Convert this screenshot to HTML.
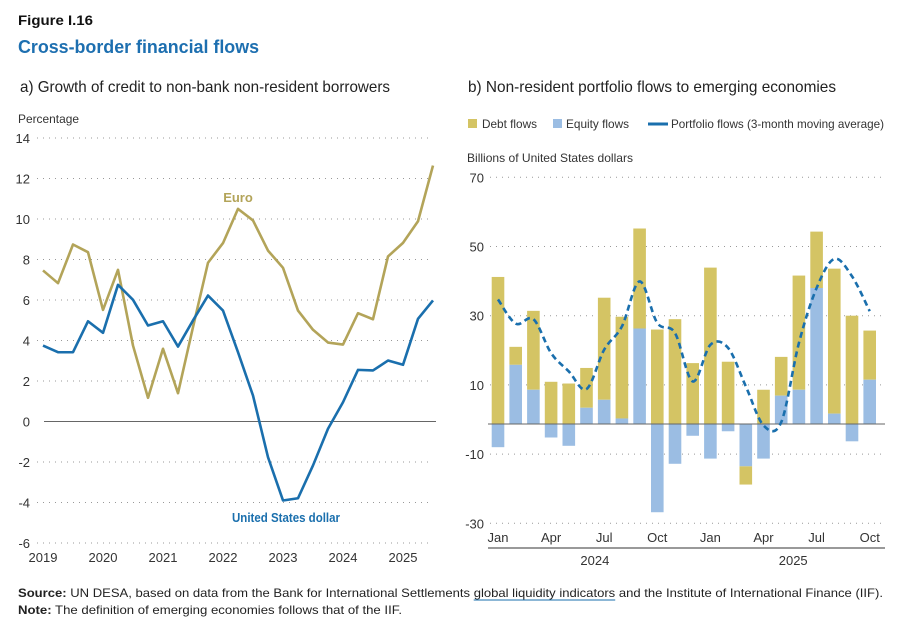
<!DOCTYPE html>
<html><head><meta charset="utf-8"><style>
html,body{margin:0;padding:0;background:#fff;}
svg{display:block;font-family:"Liberation Sans Narrow","Liberation Sans",sans-serif;}
</style></head><body>
<svg id="fig" width="906" height="629" viewBox="0 0 906 629" xmlns="http://www.w3.org/2000/svg">
<text x="18" y="25" font-size="14" font-weight="bold" fill="#111" textLength="75" lengthAdjust="spacingAndGlyphs">Figure I.16</text>
<text x="18" y="53" font-size="18" font-weight="bold" fill="#1d6fb0" textLength="241" lengthAdjust="spacingAndGlyphs">Cross-border financial flows</text>
<text x="20" y="92" font-size="16" fill="#222" textLength="370" lengthAdjust="spacingAndGlyphs">a) Growth of credit to non-bank non-resident borrowers</text>
<text x="468" y="92" font-size="16" fill="#222" textLength="368" lengthAdjust="spacingAndGlyphs">b) Non-resident portfolio flows to emerging economies</text>
<text x="18" y="123" font-size="12" fill="#333" textLength="61" lengthAdjust="spacingAndGlyphs">Percentage</text>
<text x="467" y="162" font-size="12" fill="#333" textLength="166" lengthAdjust="spacingAndGlyphs">Billions of United States dollars</text>
<g>
<rect x="468" y="119" width="9" height="9" fill="#d4c464"/>
<text x="482" y="128" font-size="12" fill="#333" textLength="55" lengthAdjust="spacingAndGlyphs">Debt flows</text>
<rect x="553" y="119" width="9" height="9" fill="#9bbde3"/>
<text x="566" y="128" font-size="12" fill="#333" textLength="63" lengthAdjust="spacingAndGlyphs">Equity flows</text>
<line x1="648" y1="124" x2="668" y2="124" stroke="#1a6fad" stroke-width="3"/>
<text x="671" y="128" font-size="12" fill="#333" textLength="213" lengthAdjust="spacingAndGlyphs">Portfolio flows (3-month moving average)</text>
</g>
<g id="chartA"></g>
<g id="chartB"></g>
<text id="src" x="18" y="597" font-size="12" fill="#222" textLength="865" lengthAdjust="spacingAndGlyphs"><tspan font-weight="bold">Source:</tspan> UN DESA, based on data from the Bank for International Settlements <tspan id="lnk">global liquidity indicators</tspan> and the Institute of International Finance (IIF).</text>
<line id="uline" x1="468" y1="600" x2="613" y2="600" stroke="#1a6fad" stroke-width="1"/>
<text x="18" y="614" font-size="12" fill="#222" textLength="384" lengthAdjust="spacingAndGlyphs"><tspan font-weight="bold">Note:</tspan> The definition of emerging economies follows that of the IIF.</text>
</svg>
<script>
const NS='http://www.w3.org/2000/svg';
// Chart A data (quarterly, 2019Q1 - 2025Q3)
const aYearLabels=['2019','2020','2021','2022','2023','2024','2025'];
const aTicks=[14,12,10,8,6,4,2,0,-2,-4,-6];
const euroVals=[7.46,6.83,8.74,8.36,5.51,7.49,3.75,1.17,3.59,1.40,4.66,7.84,8.81,10.5,9.93,8.44,7.59,5.48,4.53,3.90,3.80,5.35,5.05,8.15,8.82,9.89,12.64];
const usdVals=[3.75,3.42,3.42,4.95,4.38,6.75,6.01,4.74,4.95,3.70,4.99,6.22,5.48,3.42,1.28,-1.76,-3.90,-3.79,-2.17,-0.36,0.95,2.55,2.52,3.01,2.80,5.07,5.98];
// Chart B data (monthly Jan 2024 - Oct 2025)
const bMonths=['Jan','Feb','Mar','Apr','May','Jun','Jul','Aug','Sep','Oct','Nov','Dec','Jan','Feb','Mar','Apr','May','Jun','Jul','Aug','Sep','Oct'];
const bMonthLabels=['Jan','Apr','Jul','Oct','Jan','Apr','Jul','Oct'];
const bYears=['2024','2025'];
const bTicks=[70,50,30,10,-10,-30];
const debtVals=[42.5,5.2,22.8,12.2,11.7,11.5,29.5,29.4,28.9,27.3,30.3,17.6,45.2,18.0,-5.3,9.9,11.2,33.0,16.3,41.9,31.3,14.2];
const equityVals=[-6.7,17.1,9.9,-3.9,-6.3,4.7,7.0,1.6,27.6,-25.5,-11.5,-3.4,-10.0,-2.1,-12.2,-10.0,8.2,9.9,39.3,3.0,-5.0,12.8];
const maVals=[36,29,30.3,20.5,15.2,10.1,21.5,28.2,41.2,29.2,26.3,12.3,22.9,22.0,10.9,-0.4,0.5,23.4,39.3,47.7,42.7,32.6];

function mk(tag,attrs,parent,txt){const e=document.createElementNS(NS,tag);for(const k in attrs)e.setAttribute(k,attrs[k]);if(txt!==undefined)e.textContent=txt;parent.appendChild(e);return e;}
function smooth(pts){let d='M'+pts[0][0]+','+pts[0][1];for(let i=0;i<pts.length-1;i++){const p0=pts[i-1]||pts[i],p1=pts[i],p2=pts[i+1],p3=pts[i+2]||p2;const c1x=p1[0]+(p2[0]-p0[0])/6,c1y=p1[1]+(p2[1]-p0[1])/6,c2x=p2[0]-(p3[0]-p1[0])/6,c2y=p2[1]-(p3[1]-p1[1])/6;d+=' C'+c1x+','+c1y+' '+c2x+','+c2y+' '+p2[0]+','+p2[1];}return d;}

// ---- Chart A ----
const gA=document.getElementById('chartA');
const ax=i=>43+i*15; const ay=v=>421.5-v*20.25;
aTicks.forEach(t=>{
 const lbl=mk('text',{x:30,y:ay(t)+5,'font-size':13,fill:'#333','text-anchor':'end'},gA,String(t));
 
 
 const gl=mk('line',t===0?{x1:44,x2:436,y1:ay(t),y2:ay(t),stroke:'#666','stroke-width':1}:{x1:37,x2:432,y1:ay(t),y2:ay(t),stroke:'#999','stroke-width':1,'stroke-dasharray':'1 5'},gA);
 
 
});
aYearLabels.forEach((y,i)=>{
 const l=mk('text',{x:ax(i*4),y:562,'font-size':13,fill:'#333','text-anchor':'middle'},gA,y);
 
 
});
const eu=mk('path',{d:'M'+euroVals.map((v,i)=>ax(i)+','+ay(v)).join(' L'),fill:'none',stroke:'#b3a459','stroke-width':2.6,'stroke-linejoin':'round'},gA);


const us=mk('path',{d:'M'+usdVals.map((v,i)=>ax(i)+','+ay(v)).join(' L'),fill:'none',stroke:'#1a6fad','stroke-width':2.6,'stroke-linejoin':'round'},gA);


const eL=mk('text',{x:238,y:202,'font-size':13,'font-weight':'bold',fill:'#b3a459','text-anchor':'middle'},gA,'Euro');


const uL=mk('text',{x:286,y:522,'font-size':13,'font-weight':'bold',fill:'#1a6fad','text-anchor':'middle',textLength:108,lengthAdjust:'spacingAndGlyphs'},gA,'United States dollar');



// ---- Chart B ----
const gB=document.getElementById('chartB');
const bx=i=>498+i*17.7; const by=v=>424-v*3.46; const bw=12.6;
bTicks.forEach(t=>{
 const yy=by(t)-4.5;
 const lbl=mk('text',{x:484,y:yy+5,'font-size':13,fill:'#333','text-anchor':'end'},gB,String(t));
 
 
 const gl=mk('line',{x1:490,x2:885,y1:yy,y2:yy,stroke:'#999','stroke-width':1,'stroke-dasharray':'1 5'},gB);
 
 
});
bMonths.forEach((m,i)=>{
 const d=debtVals[i],e=equityVals[i];
 let posBase=0,negBase=0;
 let ey0,ey1;
 if(e>=0){ey0=by(e);ey1=by(0);posBase=e;}else{ey0=by(0);ey1=by(e);negBase=e;}
 let dy0,dy1;
 if(d>=0){dy0=by(posBase+d);dy1=by(posBase);}else{dy0=by(negBase);dy1=by(negBase+d);}
 const rd=mk('rect',{x:bx(i)-bw/2,y:dy0,width:bw,height:dy1-dy0,fill:'#d4c464'},gB);
 
 
 const re=mk('rect',{x:bx(i)-bw/2,y:ey0,width:bw,height:ey1-ey0,fill:'#9bbde3'},gB);
 
 
});
const zl=mk('line',{x1:488,x2:885,y1:by(0),y2:by(0),stroke:'#666','stroke-width':1},gB);


const ma=mk('path',{d:smooth(maVals.map((v,i)=>[bx(i),by(v)])),fill:'none',stroke:'#1a6fad','stroke-width':2.6,'stroke-dasharray':'6 4'},gB);


bMonthLabels.forEach((m,k)=>{
 const l=mk('text',{x:bx(k*3),y:542,'font-size':13,fill:'#333','text-anchor':'middle'},gB,m);
 
 
});
bYears.forEach((y,k)=>{
 const x0=k===0?488:bx(12)-9, x1=k===0?bx(11)+9:885;
 const ln=mk('line',{x1:x0,x2:x1,y1:548,y2:548,stroke:'#333','stroke-width':1},gB);
 
 
 const t=mk('text',{x:(x0+x1)/2,y:565,'font-size':13,fill:'#333','text-anchor':'middle'},gB,y);
 
 
});
// position link underline under the link text
try{
 const src=document.getElementById('src');
 const full=src.textContent;
 const start=full.indexOf('global liquidity');
 const len='global liquidity indicators'.length;
 const p0=src.getStartPositionOfChar(start), p1=src.getEndPositionOfChar(start+len-1);
 const ul=document.getElementById('uline');
 ul.setAttribute('x1',p0.x);ul.setAttribute('x2',p1.x);
}catch(e){}
</script>
</body></html>
